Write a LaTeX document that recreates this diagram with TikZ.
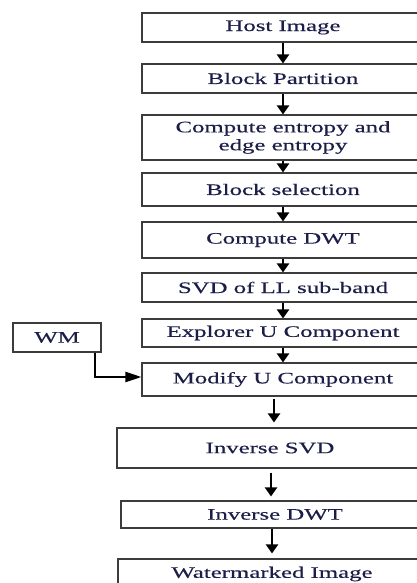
\documentclass[tikz,border=0pt]{standalone}
\usepackage{fontspec}
\setmainfont{Liberation Serif}[FakeStretch=1.55, FakeBold=0.4]
\usetikzlibrary{arrows.meta}
\definecolor{inkblue}{RGB}{28,30,72}
\definecolor{boxgray}{RGB}{60,60,60}
\begin{document}
\begin{tikzpicture}[x=1pt, y=-1pt,
  stage/.style={draw=boxgray, line width=1.1pt, inner sep=0pt, minimum width=282pt,
    minimum height=#1, align=center, text=inkblue,
    font=\fontsize{16}{18}\selectfont},
  stage/.default=29pt,
  flow/.style={-{Triangle[length=9pt,width=12pt]}, line width=2.2pt}]
\useasboundingbox (0,0) rectangle (417,583);
\clip (0,0) rectangle (417,583);

% Main chain
\node[stage] (host) at (283,27.5) {Host Image};
\node[stage] (partition) at (283,78.5) {Block Partition};
\node[stage=45pt] (entropy) at (283,137.5) {Compute entropy and\\edge entropy};
\node[stage=33pt] (selection) at (283,189.5) {Block selection};
\node[stage=36pt] (dwt) at (283,240) {Compute DWT};
\node[stage] (svd) at (283,287.5) {SVD of LL sub-band};
\node[stage=28pt] (explore) at (283,333) {Explorer U Component};
\node[stage=33pt] (modify) at (283,379.5) {Modify U Component};

% Reverse steps
\node[stage=40pt, minimum width=306pt] (isvd) at (270,448) {Inverse SVD};
\node[stage=27pt, minimum width=308pt] (idwt) at (275,514.5) {Inverse DWT};
\node[stage=30pt, minimum width=308pt] (marked) at (272,574) {Watermarked Image};

% Watermark input
\node[stage, minimum width=88pt] (wm) at (57,337.5) {WM};

% Arrows
\foreach \a/\b in {host/partition, partition/entropy, entropy/selection,
  selection/dwt, dwt/svd, svd/explore, explore/modify}
  \draw[flow] (\a.south) -- (\b.north);
\draw[flow, shorten <=2pt, shorten >=5pt] ([xshift=-9pt]modify.south) -- ([xshift=4pt]isvd.north);
\draw[flow, shorten <=4pt, shorten >=4pt] ([xshift=1pt]isvd.south) -- ([xshift=-4pt]idwt.north);
\draw[flow, shorten >=5pt] ([xshift=-3pt]idwt.south) -- (marked.north);
\draw[flow, -{Triangle[length=16pt,width=10pt]}] ([xshift=38pt]wm.south) |- ([yshift=2.5pt]modify.west);
\end{tikzpicture}
\end{document}
